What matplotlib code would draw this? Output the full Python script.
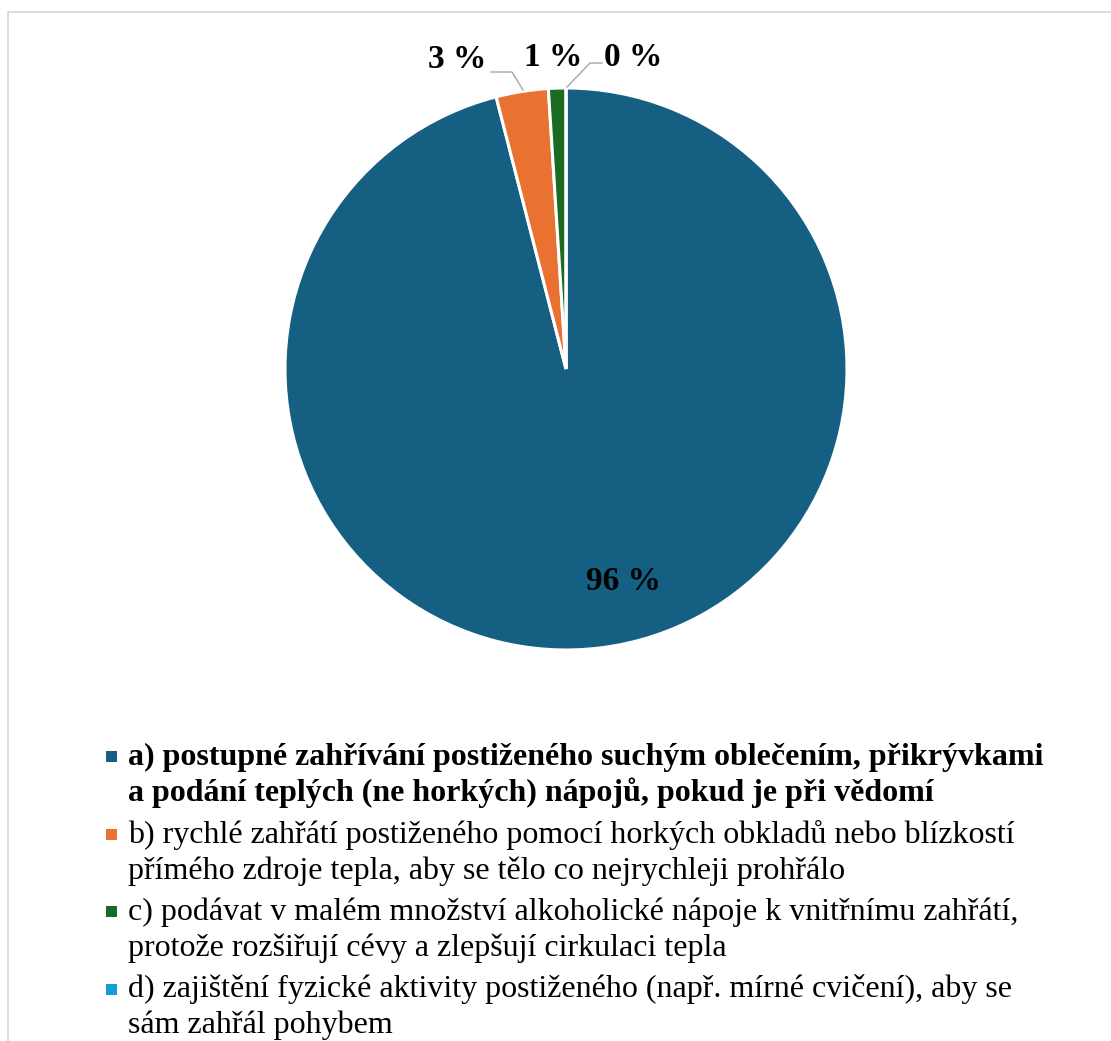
import matplotlib.pyplot as plt
from matplotlib.patches import Rectangle

plt.rcParams["font.family"] = ["Liberation Serif", "DejaVu Serif"]

# ── DATA ──────────────────────────────────────────────────────────────────────
answers = [
    "a) postupné zahřívání postiženého suchým oblečením, přikrývkami\n"
    "a podání teplých (ne horkých) nápojů, pokud je při vědomí",
    "b) rychlé zahřátí postiženého pomocí horkých obkladů nebo blízkostí\n"
    "přímého zdroje tepla, aby se tělo co nejrychleji prohřálo",
    "c) podávat v malém množství alkoholické nápoje k vnitřnímu zahřátí,\n"
    "protože rozšiřují cévy a zlepšují cirkulaci tepla",
    "d) zajištění fyzické aktivity postiženého (např. mírné cvičení), aby se\n"
    "sám zahřál pohybem",
]
shares = [96, 3, 1, 0]
correct = [True, False, False, False]
colors = ["#156082", "#E97132", "#196B24", "#0F9ED5"]

W, H = 1111, 1041
fig = plt.figure(figsize=(W / 100, H / 100), dpi=100)
ax = fig.add_axes([0, 0, 1, 1])

def py(y):
    # pixel rows counted from the top
    return H - y

# chart area frame
ax.add_patch(Rectangle((8, py(1060)), 1120, 1048, fill=False,
                       edgecolor="#D9D9D9", linewidth=1.3))

# ── PIE ───────────────────────────────────────────────────────────────────────
cx, cy, r = 566, py(369), 281
wedges, _ = ax.pie(shares, colors=colors, startangle=90, counterclock=False,
                   center=(cx, cy), radius=r,
                   wedgeprops=dict(edgecolor="white", linewidth=2.2))

lbl = dict(fontsize=24, fontweight="bold", ha="center", va="center")
ax.text(623, py(581), f"{shares[0]} %", **lbl)
ax.text(457, py(60), f"{shares[1]} %", **lbl)
ax.text(553, py(57), f"{shares[2]} %", **lbl)
ax.text(633, py(57), f"{shares[3]} %", **lbl)

# leader lines for the small slices
lead = dict(color="#A6A6A6", linewidth=1.0)
ax.plot([491, 512, 523], [py(72), py(72), py(90)], **lead)
ax.plot([602, 590, 567], [py(63), py(63), py(87)], **lead)

# ── LEGEND ────────────────────────────────────────────────────────────────────
first_base = 765
item_step = 77.5
line_step = 36
for k, (text, col, bold) in enumerate(zip(answers, colors, correct)):
    base = first_base + k * item_step
    ax.add_patch(Rectangle((106, py(base - 3)), 11, 11, color=col, linewidth=0))
    for i, line in enumerate(text.split("\n")):
        ax.text(128, py(base + i * line_step), line, fontsize=23,
                fontweight="bold" if bold else "normal",
                ha="left", va="baseline")

ax.set_xlim(0, W)
ax.set_ylim(0, H)
ax.set_aspect("equal")
ax.axis("off")

fig.savefig("out.png", dpi=100, facecolor="white")
